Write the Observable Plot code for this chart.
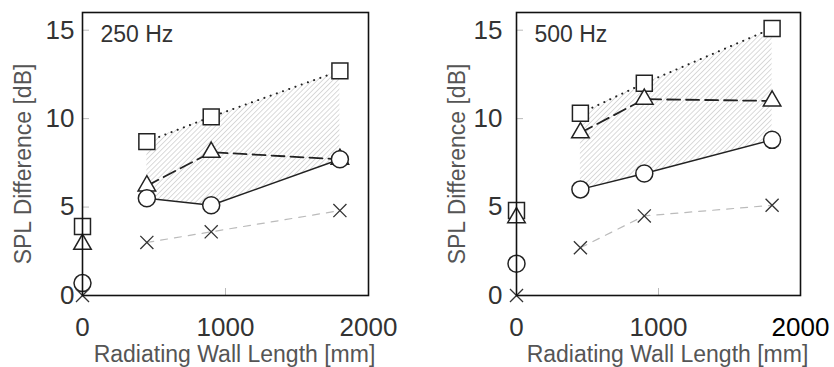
<!DOCTYPE html>
<html>
<head>
<meta charset="utf-8">
<script src="https://cdn.jsdelivr.net/npm/d3@7"></script>
<script src="https://cdn.jsdelivr.net/npm/@observablehq/plot@0.6"></script>
<style>
  html, body { margin: 0; padding: 0; background: #fff; }
  #wrap { display: flex; width: 834px; height: 367px; }
</style>
</head>
<body>
<div id="wrap"></div>
<script>
// ---- data ----
const lengths = [0, 450, 900, 1800];           // Radiating wall length [mm]
const sq250  = [3.9, 8.7, 10.1, 12.7];
const tri250 = [2.9, 6.2, 8.1, 7.7];
const cir250 = [0.7, 5.5, 5.1, 7.7];
const x250   = [0, 3.0, 3.6, 4.8];
const sq500  = [4.8, 10.3, 12.0, 15.1];
const tri500 = [4.4, 9.2, 11.1, 11.0];
const cir500 = [1.8, 6.0, 6.9, 8.8];
const x500   = [0, 2.7, 4.5, 5.1];
const xTicks = [0, 1000, 2000];
const yTicks = [0, 5, 10, 15];
const innerYTicks = [5, 10, 15];
const innerXTicks = [1000];
const panelLabels = ["250 Hz", "500 Hz"];
const xLabel = "Radiating Wall Length [mm]";
const yLabel = "SPL Difference [dB]";

function rows(sq, tri, cir, cr) {
  return lengths.map((x, i) => ({x, sq: sq[i], tri: tri[i], cir: cir[i], cr: cr[i]}));
}

function panel({data, label, id, marginLeft, marginRight, yPad, darkLast}) {
  const W = 417, H = 367, mt = 12, mb = 72;
  const fw = W - marginLeft - marginRight, fh = H - mt - mb;
  const conn = data.filter(d => d.x > 0);
  const svg = Plot.plot({
    width: W, height: H,
    marginLeft, marginRight, marginTop: mt, marginBottom: mb,
    style: {fontFamily: "'Liberation Sans', Arial, sans-serif", background: "white", overflow: "visible"},
    x: {domain: [0, 2000]},
    y: {domain: [0, 16]},
    marks: [
      Plot.areaY(conn, {x: "x", y1: "cir", y2: "sq", fill: `url(#${id})`}),
      Plot.tickY(innerYTicks, {y: d => d, insetRight: fw - 7, stroke: "#bbb", strokeWidth: 1}),
      Plot.tickX(innerXTicks, {x: d => d, insetTop: fh - 7, stroke: "#bbb", strokeWidth: 1}),
      Plot.line(conn, {x: "x", y: "cr", stroke: "#bbb", strokeWidth: 1.2, strokeDasharray: "7,7"}),
      Plot.line(conn, {x: "x", y: "sq", stroke: "#222", strokeWidth: 2, strokeDasharray: "0.1,6.5", strokeLinecap: "round"}),
      Plot.line(conn, {x: "x", y: "tri", stroke: "#222", strokeWidth: 1.8, strokeDasharray: "13,6"}),
      Plot.line(conn, {x: "x", y: "cir", stroke: "#222", strokeWidth: 1.5}),
      Plot.dot(data, {x: "x", y: "sq", symbol: "square", r: 9, stroke: "#222", fill: "white", strokeWidth: 1.5}),
      Plot.dot(data, {x: "x", y: "tri", symbol: "triangle", r: 6.5, stroke: "#222", fill: "white", strokeWidth: 1.5}),
      Plot.dot(data, {x: "x", y: "cir", symbol: "circle", r: 8.5, stroke: "#222", fill: "white", strokeWidth: 1.5}),
      Plot.dot(data, {x: "x", y: "cr", symbol: "times", r: 6, stroke: "#333", strokeWidth: 1.3}),
      Plot.frame({stroke: "#111", strokeWidth: 1.6}),
      Plot.axisX({ticks: xTicks, tickSize: 0, tickPadding: 22, fontSize: 26, label: null,
                  tickFormat: d3.format("d"),
                  fill: d => (darkLast && d === 2000) ? "#000" : "#333"}),
      Plot.axisY({ticks: yTicks, tickSize: 0, tickPadding: yPad, fontSize: 26, label: null, fill: "#333"}),
      Plot.text([label], {frameAnchor: "top-left", lineAnchor: "top", textAnchor: "start", dx: 18, dy: 13,
                          fontSize: 23, fill: "#333", text: d => d}),
      Plot.text([xLabel], {frameAnchor: "bottom", lineAnchor: "top", textAnchor: "middle", dy: 50, dx: 9,
                           fontSize: 23, fill: "#555", text: d => d}),
      Plot.text([yLabel], {frameAnchor: "left", rotate: -90, textAnchor: "middle", lineAnchor: "middle",
                           dx: -59, dy: 10, fontSize: 23, fill: "#555", text: d => d})
    ]
  });
  const defs = d3.select(svg).insert("defs", ":first-child");
  const pat = defs.append("pattern")
    .attr("id", id).attr("patternUnits", "userSpaceOnUse")
    .attr("width", 3.6).attr("height", 3.6)
    .attr("patternTransform", "rotate(45)");
  pat.append("line").attr("x1", 0).attr("y1", 0).attr("x2", 0).attr("y2", 3.6)
    .attr("stroke", "#b5b5b5").attr("stroke-width", 1);
  return svg;
}

const wrap = document.getElementById("wrap");
wrap.appendChild(panel({data: rows(sq250, tri250, cir250, x250), label: panelLabels[0], id: "hatch250",
                        marginLeft: 82, marginRight: 49, yPad: 8, darkLast: false}));
wrap.appendChild(panel({data: rows(sq500, tri500, cir500, x500), label: panelLabels[1], id: "hatch500",
                        marginLeft: 99, marginRight: 34, yPad: 14, darkLast: true}));
</script>
</body>
</html>
